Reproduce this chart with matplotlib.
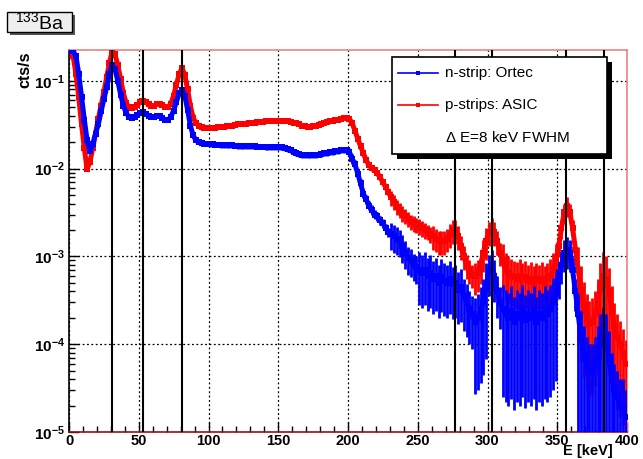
import numpy as np
import matplotlib
matplotlib.use("Agg")
import matplotlib.pyplot as plt
from matplotlib.patches import Rectangle
from matplotlib.lines import Line2D
from matplotlib.ticker import FixedLocator, FuncFormatter, MultipleLocator, NullFormatter

plt.rcParams['font.family'] = ['Liberation Sans', 'DejaVu Sans']
plt.rcParams['mathtext.fontset'] = 'custom'
plt.rcParams['mathtext.rm'] = 'Liberation Sans'
plt.rcParams['mathtext.bf'] = 'Liberation Sans:bold'

# bin centres (2 keV bins)
energy = np.arange(1, 400, 2)

# n-strip read out with Ortec electronics [cts/s]
blue = [
    0.22, 0.22, 0.19, 0.12, 0.065, 0.036, 0.021, 0.0158, 0.019, 0.025,
    0.032, 0.045, 0.062, 0.085, 0.12, 0.15, 0.135, 0.10, 0.070, 0.052,
    0.043, 0.039, 0.038, 0.039, 0.041, 0.043, 0.044, 0.042, 0.040, 0.039,
    0.039, 0.040, 0.040, 0.038, 0.036, 0.036, 0.039, 0.046, 0.058, 0.072,
    0.079, 0.068, 0.047, 0.031, 0.024, 0.021, 0.020, 0.0195, 0.019, 0.019,
    0.019, 0.019, 0.0188, 0.0188, 0.0187, 0.0186, 0.0185, 0.0185, 0.0184, 0.0183,
    0.0182, 0.0182, 0.0181, 0.018, 0.018, 0.018, 0.0179, 0.0178, 0.0178, 0.0178,
    0.0177, 0.0177, 0.0177, 0.0177, 0.0177, 0.0176, 0.0175, 0.0172, 0.0168, 0.0162,
    0.0155, 0.015, 0.0146, 0.0143, 0.0142, 0.0142, 0.0142, 0.0143, 0.0144, 0.0145,
    0.0147, 0.0149, 0.0151, 0.0153, 0.0155, 0.0157, 0.016, 0.0162, 0.0163, 0.0162,
    0.0155, 0.013, 0.0112, 0.0088, 0.0068, 0.0052, 0.0045, 0.0038, 0.0034, 0.0030,
    0.0029, 0.0026, 0.0024, 0.0021, 0.0019, 0.0018, 0.0017, 0.0016, 0.0015, 0.0013,
    0.0011, 0.00095, 0.0009, 0.0008, 0.00075, 0.0007, 0.00065, 0.0007, 0.0006, 0.00065,
    0.00055, 0.0006, 0.0005, 0.00058, 0.00052, 0.0005, 0.00055, 0.00048, 0.0005, 0.00042,
    0.00045, 0.00035, 0.0003, 0.00025, 0.00022, 0.00018, 0.0002, 0.00024, 0.0003, 0.00045,
    0.0007, 0.0008, 0.0006, 0.0004, 0.0003, 0.00025, 0.00022, 0.0002, 0.00024, 0.00018,
    0.00022, 0.0002, 0.00025, 0.00019, 0.00022, 0.0002, 0.00024, 0.00018, 0.00022, 0.0002,
    0.00024, 0.00022, 0.00025, 0.0003, 0.00038, 0.00055, 0.0008, 0.0011, 0.0012, 0.0011,
    0.0007, 0.0004, 0.00022, 0.00012, 0.00008, 0.00006, 0.00005, 0.00005, 0.00006, 0.00008,
    0.00011, 0.00013, 0.00011, 0.00007, 0.00004, 0.00003, 0.000025, 0.00002, 0.00002, 0.000015,
]

# p-strips read out with the ASIC [cts/s]
red = [
    0.22, 0.19, 0.12, 0.065, 0.032, 0.017, 0.0098, 0.012, 0.017, 0.025,
    0.037, 0.052, 0.075, 0.11, 0.16, 0.22, 0.20, 0.15, 0.105, 0.072,
    0.056, 0.050, 0.049, 0.050, 0.053, 0.057, 0.059, 0.057, 0.054, 0.052,
    0.052, 0.054, 0.055, 0.053, 0.050, 0.050, 0.055, 0.068, 0.090, 0.120,
    0.140, 0.118, 0.080, 0.052, 0.038, 0.033, 0.031, 0.030, 0.029, 0.029,
    0.029, 0.029, 0.0292, 0.0295, 0.030, 0.030, 0.0305, 0.031, 0.031, 0.0315,
    0.032, 0.032, 0.032, 0.0325, 0.033, 0.033, 0.0335, 0.034, 0.034, 0.034,
    0.0345, 0.035, 0.035, 0.035, 0.035, 0.035, 0.0352, 0.035, 0.0345, 0.034,
    0.0335, 0.033, 0.032, 0.031, 0.0305, 0.030, 0.030, 0.0305, 0.031, 0.0315,
    0.032, 0.033, 0.034, 0.0345, 0.035, 0.0355, 0.036, 0.037, 0.0375, 0.038,
    0.037, 0.033, 0.027, 0.022, 0.018, 0.015, 0.0125, 0.011, 0.0102, 0.0097,
    0.0090, 0.0080, 0.0070, 0.0062, 0.0054, 0.0047, 0.0042, 0.0037, 0.0034, 0.0031,
    0.0029, 0.0027, 0.0025, 0.0024, 0.0023, 0.0022, 0.0021, 0.0020, 0.0019, 0.0018,
    0.0017, 0.0016, 0.0015, 0.0015, 0.0015, 0.0016, 0.0018, 0.0020, 0.0020, 0.0017,
    0.0013, 0.0010, 0.0008, 0.0007, 0.00062, 0.0006, 0.00065, 0.0008, 0.0011, 0.0015,
    0.0019, 0.0021, 0.0019, 0.0015, 0.0011, 0.0009, 0.0007, 0.00065, 0.0006, 0.00058,
    0.00056, 0.0006, 0.00055, 0.00058, 0.00052, 0.00056, 0.0005, 0.00055, 0.00052, 0.00056,
    0.0005, 0.00055, 0.0006, 0.0007, 0.0009, 0.0013, 0.0021, 0.0032, 0.0038, 0.0032,
    0.0021, 0.0012, 0.0007, 0.00042, 0.00028, 0.0002, 0.00017, 0.00018, 0.00022, 0.0003,
    0.00045, 0.0006, 0.00055, 0.0004, 0.00025, 0.00016, 0.00012, 0.0001, 0.00008, 0.00006,
]

# relative error per energy range (range start in keV)
blue_err_from = [0, 100, 200, 230, 250, 290, 300, 310, 350, 365]
blue_err_rel = [0.05, 0.07, 0.12, 0.35, 0.6, 0.85, 0.5, 0.90, 0.4, 1.0]
red_err_from = [0, 200, 230, 260, 290, 300, 310, 350, 365]
red_err_rel = [0.05, 0.08, 0.2, 0.3, 0.4, 0.3, 0.55, 0.25, 0.85]

# 133Ba gamma / X-ray lines [keV]
ba_lines = [30.9, 53.2, 81.0, 276.4, 302.9, 356.0, 383.8]


def errors(vals, starts, rel):
    vals = np.array(vals)
    r = np.array(rel)[np.searchsorted(starts, energy, side='right') - 1]
    up = vals * r
    lo = np.minimum(vals * r, vals * 0.9999)
    return vals, [lo, up]


fig = plt.figure(figsize=(6.43, 4.59), dpi=100)
ax = fig.add_axes([69 / 643, 1 - 432 / 459, (627 - 69) / 643, (432 - 50) / 459])
ax.set_yscale('log')

for vals, starts, rel, col in [(red, red_err_from, red_err_rel, '#ff0000'),
                                (blue, blue_err_from, blue_err_rel, '#0000ff')]:
    v, e = errors(vals, starts, rel)
    ax.errorbar(energy, v, yerr=e, xerr=1.0, fmt='s-', ms=4.0, lw=3.6,
                color=col, ecolor=col, elinewidth=2.0, capsize=2.2, mew=0,
                zorder=3)

for en in ba_lines:
    ax.axvline(en, color='k', lw=1.5, zorder=5)

ax.set_xlim(0, 400)
ax.set_ylim(1e-5, 0.225)

ax.xaxis.set_major_locator(MultipleLocator(50))
ax.xaxis.set_minor_locator(MultipleLocator(10))
ax.yaxis.set_major_locator(FixedLocator([1e-5, 1e-4, 1e-3, 1e-2, 1e-1]))
ax.yaxis.set_major_formatter(FuncFormatter(
    lambda v, p: r'$\mathbf{10^{%d}}$' % round(np.log10(v))))
ax.yaxis.set_minor_locator(FixedLocator(
    [m * 10.0 ** d for d in range(-5, 0) for m in range(2, 10)]))
ax.yaxis.set_minor_formatter(NullFormatter())
ax.tick_params(which='both', direction='in', top=False, right=False)
ax.tick_params(which='major', length=7, width=1, labelsize=11)
ax.tick_params(which='minor', length=4, width=1)
ax.tick_params(axis='x', pad=1.5, labelsize=10.5)
ax.tick_params(axis='y', pad=3)
for lab in ax.get_xticklabels():
    lab.set_fontweight('bold')

ax.grid(True, which='major', color='k', linestyle=(0, (1.5, 2)), lw=0.9)
ax.set_axisbelow(True)

ax.spines['left'].set_color('k')
ax.spines['bottom'].set_color('#9a1010')
ax.spines['top'].set_color('#f08080')
ax.spines['right'].set_color('#f08080')
for s in ax.spines.values():
    s.set_linewidth(1.2)

# overlay in pixel coordinates for labels, title box and legend box
ov = fig.add_axes([0, 0, 1, 1], zorder=10)
ov.set_xlim(0, 643)
ov.set_ylim(459, 0)
ov.axis('off')

ov.text(25, 51, 'cts/s', rotation=90, ha='center', va='top',
        fontsize=11.5, fontweight='bold')
ov.text(613, 458.5, 'E [keV]', ha='right', va='bottom',
        fontsize=10.5, fontweight='bold')

# title box
ov.add_patch(Rectangle((10, 15), 65, 20, facecolor='#555555', edgecolor='none'))
ov.add_patch(Rectangle((7, 12), 65, 20, facecolor='#eeeeee', edgecolor='k', lw=1))
ov.text(39.5, 22.5, r'$^{133}$Ba', ha='center', va='center', fontsize=14)

# legend box
ov.add_patch(Rectangle((397, 62), 215, 97, facecolor='k', edgecolor='none'))
ov.add_patch(Rectangle((392, 57), 215, 97, facecolor='white', edgecolor='k', lw=1.2))
for yy, col, txt in [(73, '#0000ff', 'n-strip: Ortec'),
                     (105, '#ff0000', 'p-strips: ASIC')]:
    ov.add_line(Line2D([398, 438], [yy, yy], color=col, lw=1.2))
    ov.add_line(Line2D([418], [yy], color=col, marker='s', ms=2.5, mew=0))
    ov.text(445, yy, txt, ha='left', va='center', fontsize=11)
ov.text(445, 138, r'$\Delta$ E=8 keV FWHM', ha='left', va='center', fontsize=11)

fig.savefig('out.png', dpi=100)
